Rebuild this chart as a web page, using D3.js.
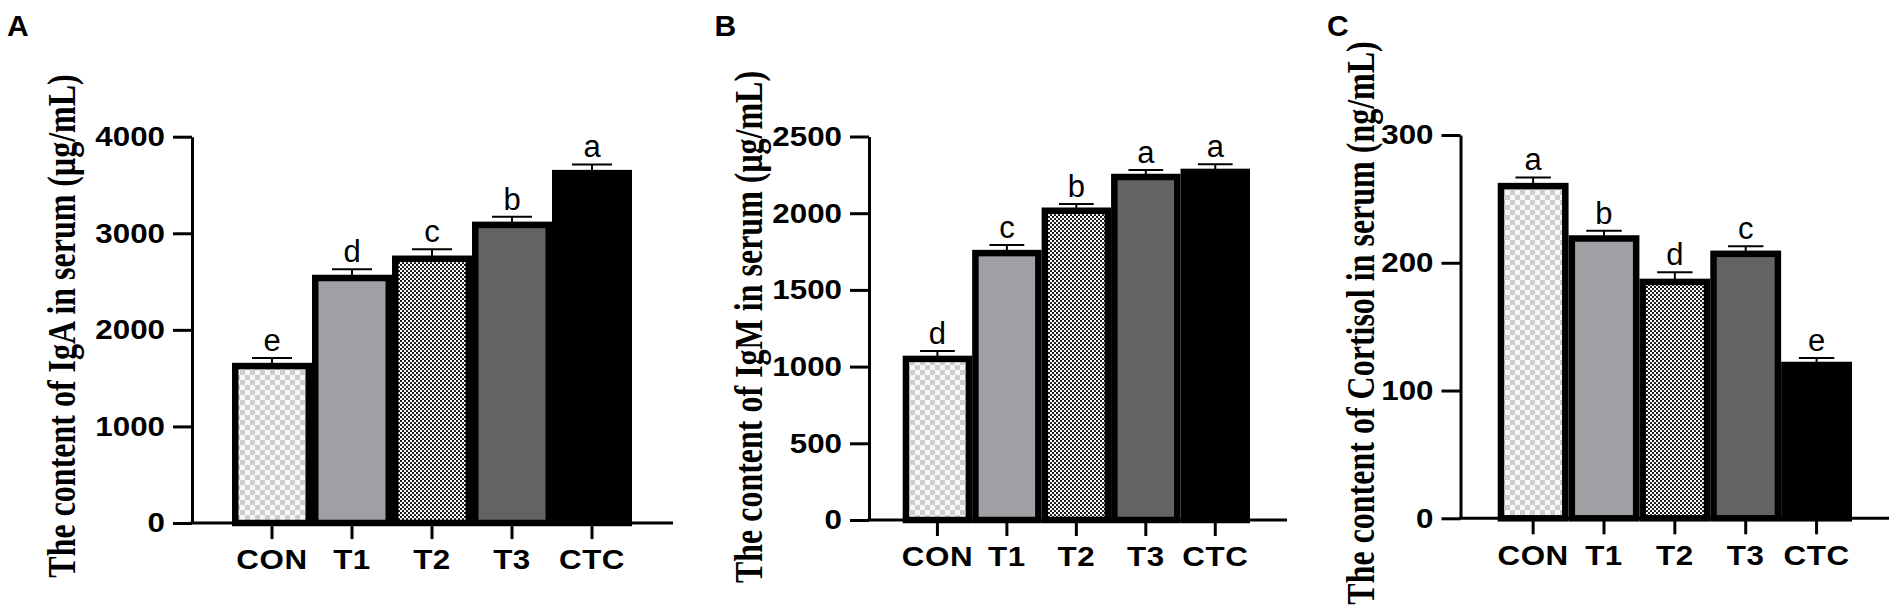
<!DOCTYPE html>
<html>
<head>
<meta charset="utf-8">
<script src="https://cdn.jsdelivr.net/npm/d3@7"></script>
<style>
  html, body { margin: 0; padding: 0; background: #fff; }
  svg { display: block; }
  .sx { transform-box: fill-box; transform-origin: center; transform: scaleX(1.12); }
  .sxr { transform-box: fill-box; transform-origin: right center; transform: scaleX(1.12); }
</style>
</head>
<body>
<svg id="chart" width="1901" height="615"></svg>
<script>
// ---------------- data ----------------
const categories = ["CON", "T1", "T2", "T3", "CTC"];

const igaMean = [1625, 2537, 2736, 3087, 3623];
const igaSE = [84, 90, 98, 84, 90];
const igaLetters = ["e", "d", "c", "b", "a"];
const igaTicks = [0, 1000, 2000, 3000, 4000];

const igmMean = [1050, 1740, 2016, 2236, 2269];
const igmSE = [52, 53, 44, 46, 50];
const igmLetters = ["d", "c", "b", "a", "a"];
const igmTicks = [0, 500, 1000, 1500, 2000, 2500];

const cortisolMean = [260, 219, 185, 207, 120];
const cortisolSE = [6.8, 6.1, 7.5, 6.0, 5.5];
const cortisolLetters = ["a", "b", "d", "c", "e"];
const cortisolTicks = [0, 100, 200, 300];

const panelLetters = ["A", "B", "C"];
const yTitles = [
  "The content of IgA in serum (\u03bcg/mL)",
  "The content of IgM in serum (\u03bcg/mL)",
  "The content of Cortisol in serum (ng/mL)"
];

// ---------------- layout ----------------
const layout = [
  { axisX: 192,    barL: 232,    barR: 632,  axisEnd: 673,  y0: 523,   yTop: 136.7, letterX: 7,      titleX: 75,   titleY: 326 },
  { axisX: 869,    barL: 902.7,  barR: 1250, axisEnd: 1287, y0: 520,   yTop: 136.5, letterX: 714.5,  titleX: 762,  titleY: 327 },
  { axisX: 1460.5, barL: 1497.7, barR: 1852, axisEnd: 1889, y0: 518.3, yTop: 135,   letterX: 1327,   titleX: 1374, titleY: 323 }
];

const panels = [
  { mean: igaMean, se: igaSE, letters: igaLetters, ticks: igaTicks },
  { mean: igmMean, se: igmSE, letters: igmLetters, ticks: igmTicks },
  { mean: cortisolMean, se: cortisolSE, letters: cortisolLetters, ticks: cortisolTicks }
];

const svg = d3.select("#chart");

// ---------------- patterns ----------------
const defs = svg.append("defs");
const checker = defs.append("pattern").attr("id", "checker")
  .attr("patternUnits", "userSpaceOnUse").attr("width", 10).attr("height", 10);
checker.append("rect").attr("width", 10).attr("height", 10).attr("fill", "#f6f6f6");
checker.append("rect").attr("x", 0).attr("y", 0).attr("width", 5).attr("height", 5).attr("fill", "#cdcdcd");
checker.append("rect").attr("x", 5).attr("y", 5).attr("width", 5).attr("height", 5).attr("fill", "#cdcdcd");

const dots = defs.append("pattern").attr("id", "dots")
  .attr("patternUnits", "userSpaceOnUse").attr("width", 4).attr("height", 4);
dots.append("rect").attr("width", 4).attr("height", 4).attr("fill", "#ffffff");
dots.append("circle").attr("cx", 1).attr("cy", 1).attr("r", 1.1).attr("fill", "#000");
dots.append("circle").attr("cx", 3).attr("cy", 3).attr("r", 1.1).attr("fill", "#000");

const fills = ["url(#checker)", "#a0a0a4", "url(#dots)", "#636363", "#000000"];
const STROKE = 6.5;

panels.forEach((p, i) => {
  const L = layout[i];
  const g = svg.append("g");

  const x = d3.scaleBand().domain(categories).range([L.barL, L.barR]).paddingInner(0).paddingOuter(0);
  const y = d3.scaleLinear().domain([0, d3.max(p.ticks)]).range([L.y0, L.yTop]);

  // bars
  g.selectAll("rect.bar").data(categories).enter().append("rect")
    .attr("class", "bar")
    .attr("x", d => x(d) + STROKE / 2)
    .attr("width", x.bandwidth() - STROKE)
    .attr("y", (d, k) => y(p.mean[k]))
    .attr("height", (d, k) => y(0) - y(p.mean[k]))
    .attr("fill", (d, k) => fills[k])
    .attr("stroke", "#000")
    .attr("stroke-width", STROKE);

  // error bars (upper only) and significance letters
  const capW = x.bandwidth() / 2;
  categories.forEach((c, k) => {
    const cx = x(c) + x.bandwidth() / 2;
    const yTopE = y(p.mean[k] + p.se[k]);
    g.append("line").attr("x1", cx).attr("x2", cx)
      .attr("y1", y(p.mean[k])).attr("y2", yTopE)
      .attr("stroke", "#000").attr("stroke-width", 2);
    g.append("line").attr("x1", cx - capW / 2).attr("x2", cx + capW / 2)
      .attr("y1", yTopE).attr("y2", yTopE)
      .attr("stroke", "#000").attr("stroke-width", 2);
    g.append("text").attr("x", cx).attr("y", yTopE - 7)
      .attr("text-anchor", "middle")
      .attr("font-family", "Liberation Sans, Arial, sans-serif")
      .attr("font-size", 31)
      .attr("fill", "#000")
      .text(p.letters[k]);
  });

  // y axis
  const yAxis = d3.axisLeft(y).tickValues(p.ticks).tickSize(19).tickSizeOuter(0).tickPadding(8)
    .tickFormat(d3.format("d"));
  const ya = g.append("g").attr("transform", `translate(${L.axisX},0)`).call(yAxis);
  ya.select(".domain").attr("stroke", "#000").attr("stroke-width", 3);
  ya.selectAll(".tick line").attr("stroke", "#000").attr("stroke-width", 3);
  ya.selectAll(".tick text")
    .attr("class", "sxr")
    .attr("fill", "#000")
    .attr("font-family", "Liberation Sans, Arial, sans-serif")
    .attr("font-weight", "bold")
    .attr("font-size", 28);

  // x axis
  const xAxis = d3.axisBottom(x).tickSize(16).tickSizeOuter(0).tickPadding(14);
  const xa = g.append("g").attr("transform", `translate(0,${L.y0})`).call(xAxis);
  xa.select(".domain").remove();
  xa.append("line").attr("x1", L.axisX - 1.5).attr("x2", L.axisEnd).attr("y1", 0).attr("y2", 0)
    .attr("stroke", "#000").attr("stroke-width", 3);
  xa.selectAll(".tick line").attr("stroke", "#000").attr("stroke-width", 3);
  xa.selectAll(".tick text")
    .attr("class", "sx")
    .attr("fill", "#000")
    .attr("font-family", "Liberation Sans, Arial, sans-serif")
    .attr("font-weight", "bold")
    .attr("font-size", 28)
    .attr("dy", null)
    .attr("y", 46.5)
    .attr("letter-spacing", 0.5);

  // y title (rotated, serif bold)
  svg.append("text")
    .attr("transform", `translate(${L.titleX},${L.titleY}) scale(1.22,1) rotate(-90)`)
    .attr("text-anchor", "middle")
    .attr("font-family", "Liberation Serif, Times New Roman, serif")
    .attr("font-weight", "bold")
    .attr("font-size", 32)
    .attr("fill", "#000")
    .text(yTitles[i]);

  // panel letter
  svg.append("text")
    .attr("x", L.letterX).attr("y", 36)
    .attr("font-family", "Liberation Sans, Arial, sans-serif")
    .attr("font-weight", "bold")
    .attr("font-size", 30)
    .attr("fill", "#000")
    .text(panelLetters[i]);
});
</script>
</body>
</html>
